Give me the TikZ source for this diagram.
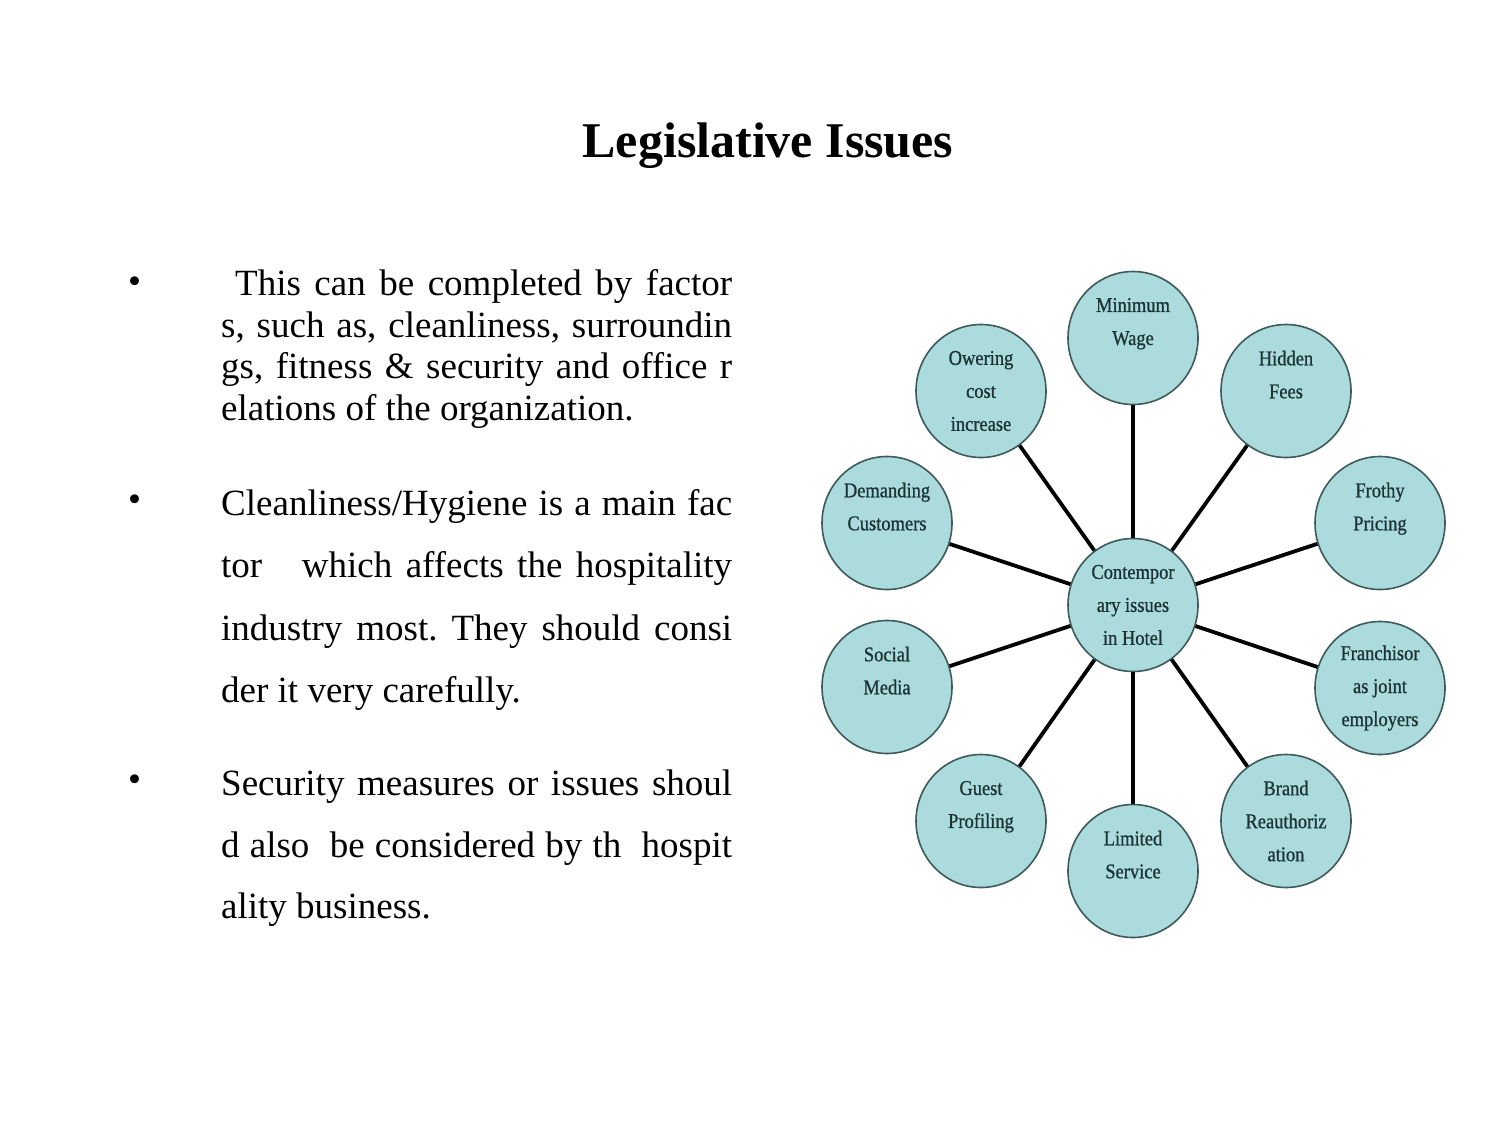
\documentclass[tikz,border=0pt]{standalone}
\usepackage{fontspec}
\setmainfont{Liberation Serif}
\newfontfamily\labelfont{Liberation Serif}[FakeStretch=0.88,FakeBold=0.8]
\usetikzlibrary{shapes.geometric}
\definecolor{bubblefill}{RGB}{171,219,221}
\definecolor{bubbleedge}{RGB}{62,90,90}
\definecolor{bubbletext}{RGB}{28,52,52}
\tikzset{
  bubble/.style={ellipse, draw=bubbleedge, line width=1.6pt, fill=bubblefill,
    minimum width=130pt, minimum height=133pt, inner sep=0pt, align=center,
    text=bubbletext, font=\labelfont\fontsize{21pt}{33pt}\selectfont},
  conn/.style={draw=black, line width=3.8pt},
  bodyline/.style={anchor=base west, inner sep=0pt, font=\fontsize{37pt}{44pt}\selectfont\frenchspacing},
  bulletmark/.style={anchor=base west, inner sep=0pt, font=\fontsize{37pt}{44pt}\selectfont},
  titletext/.style={anchor=base, inner sep=0pt, font=\fontsize{50pt}{60pt}\selectfont\bfseries}
}
\begin{document}
\begin{tikzpicture}[x=1pt,y=-1pt]
\useasboundingbox[fill=white] (0,0) rectangle (1500,1125);

% title
\node[titletext] (title) at (768,157) {Legislative Issues};

% bullets
\node[bulletmark] (b1) at (128,293) {•};
\node[bulletmark] (b2) at (128,511) {•};
\node[bulletmark] (b3) at (128,791) {•};

% paragraph 1
\node[bodyline] (p1a) at (235,295) {\hbox to 497pt{This can be completed by factor}};
\node[bodyline] (p1b) at (221,337) {\hbox to 511pt{s, such as, cleanliness, surroundin}};
\node[bodyline] (p1c) at (221,378) {\hbox to 511pt{gs, fitness \& security and office r}};
\node[bodyline] (p1d) at (221,420) {elations of the organization.};

% paragraph 2
\node[bodyline] (p2a) at (221,515) {\hbox to 511pt{Cleanliness/Hygiene is a main fac}};
\node[bodyline] (p2b) at (221,577) {\hbox to 511pt{tor\hspace{26pt} which affects the hospitality}};
\node[bodyline] (p2c) at (221,640) {\hbox to 511pt{industry most. They should consi}};
\node[bodyline] (p2d) at (221,702) {der it very carefully.};

% paragraph 3
\node[bodyline] (p3a) at (221,795) {\hbox to 511pt{Security measures or issues shoul}};
\node[bodyline] (p3b) at (221,857) {\hbox to 511pt{d also\ \ be considered by th\ \ hospit}};
\node[bodyline] (p3c) at (221,918) {ality business.};

% diagram
\node[bubble] (ctr) at (1133,605) {Contempor\\ary issues\\in Hotel};
\node[bubble] (mw)  at (1133,338) {Minimum\\Wage\\~};
\node[bubble] (oc)  at (981,391)  {Owering\\cost\\increase};
\node[bubble] (hf)  at (1286,391) {Hidden\\Fees\\~};
\node[bubble] (dc)  at (887,523)  {Demanding\\Customers\\~};
\node[bubble] (fp)  at (1380,523) {Frothy\\Pricing\\~};
\node[bubble] (sm)  at (887,687)  {Social\\Media\\~};
\node[bubble] (fj)  at (1380,688) {Franchisor\\as joint\\employers};
\node[bubble] (gp)  at (981,821)  {Guest\\Profiling\\~};
\node[bubble] (br)  at (1286,821) {Brand\\Reauthoriz\\ation};
\node[bubble] (ls)  at (1133,871) {Limited\\Service\\~};

\foreach \n in {mw,oc,hf,dc,fp,sm,fj,gp,br,ls}
  \draw[conn] (ctr) -- (\n);
\end{tikzpicture}
\end{document}
